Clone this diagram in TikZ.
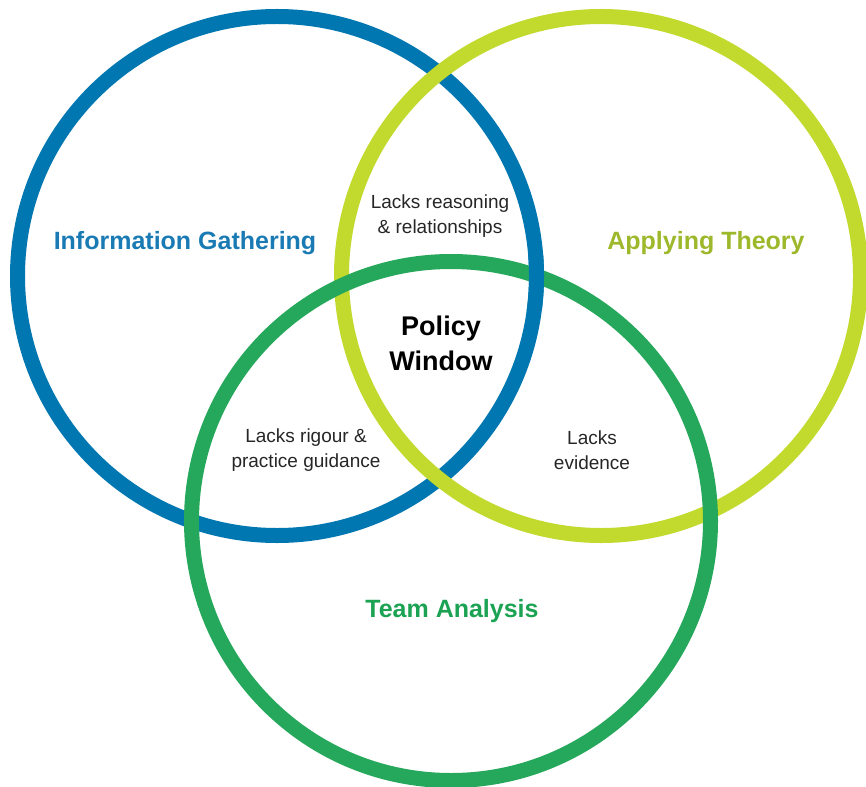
\documentclass[tikz,border=0pt]{standalone}
\usepackage{fontspec}
\setmainfont{Liberation Sans}
\definecolor{infoblue}{HTML}{0077B0}
\definecolor{infotext}{HTML}{1A7AB4}
\definecolor{theorylime}{HTML}{C2D92E}
\definecolor{theorytext}{HTML}{9DB82B}
\definecolor{teamgreen}{HTML}{26A85C}
\definecolor{teamtext}{HTML}{1BA253}

\tikzset{
  ring/.style={line width=15pt},
  setname/.style={font=\bfseries\fontsize{25}{30}\selectfont},
  gapnote/.style={font=\fontsize{19}{25}\selectfont, align=center, text=black!85},
}

\begin{document}
\begin{tikzpicture}[x=1pt,y=-1pt]
        \useasboundingbox (0,0) rectangle (866,786);
        \draw[ring, infoblue] (277,276) circle[radius=259.5pt];
        \draw[ring, theorylime] (601,276) circle[radius=259.5pt];
        \draw[ring, teamgreen] (451,521) circle[radius=259.5pt];
        % blue passes over green on the right
        \begin{scope}
            \clip (515,255) rectangle (560,310);
            \draw[ring, infoblue] (277,276) circle[radius=259.5pt];
        \end{scope}

        \node[setname, text=infotext] (info) at (185,243) {Information Gathering};
        \node[setname, text=theorytext] (theory) at (706,243) {Applying Theory};
        \node[setname, text=teamtext] (team) at (452,611) {Team Analysis};
        \node[font=\bfseries\fontsize{27}{35}\selectfont, align=center] (policy) at (441,343) {Policy\\Window};

        \node[gapnote] (reason) at (440,216) {Lacks reasoning\\\& relationships};
        \node[gapnote] (rigour) at (306,450) {Lacks rigour \&\\practice guidance};
        \node[gapnote] (evidence) at (592,450) {Lacks\\evidence};
    \end{tikzpicture}
\end{document}
